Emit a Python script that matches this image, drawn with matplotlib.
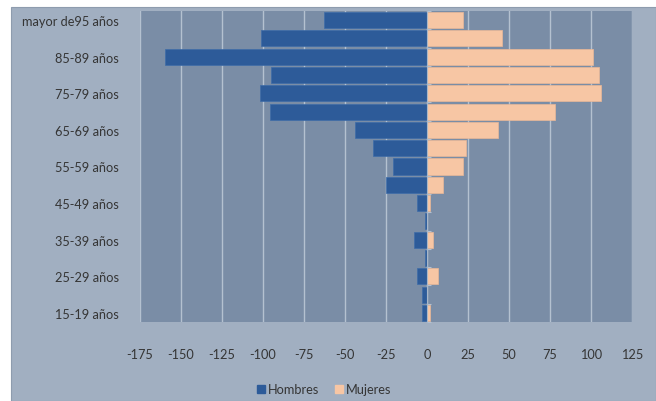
import numpy as np
import matplotlib.pyplot as plt
from matplotlib.patches import Rectangle
from matplotlib.lines import Line2D

plt.rcParams['font.family'] = ['Lato', 'DejaVu Sans']
plt.rcParams['axes.unicode_minus'] = False

# ---- Data (bottom to top) ----
grupos = ['15-19 años', '20-24 años', '25-29 años', '30-34 años', '35-39 años',
          '40-44 años', '45-49 años', '50-54 años', '55-59 años', '60-64 años',
          '65-69 años', '70-74 años', '75-79 años', '80-84 años', '85-89 años',
          '90-94 años', 'mayor de95 años']
hombres = [-3, -3, -6, -1, -8, -1, -6, -25, -21, -33,
           -44, -96, -102, -95, -160, -101, -63]
mujeres = [2, 0, 7, 0, 3.5, 0, 2, 10, 22, 24,
           43, 78, 106, 105, 101, 46, 22]
xticks = list(range(-175, 126, 25))

col_h = '#2D5B99'
col_m = '#F7C6A4'
txt = '#353535'

fig = plt.figure(figsize=(6.56, 4.02), dpi=100)
fig.patch.set_facecolor('white')
# chart background (leaves the thin white margin at left/top)
fig.add_artist(Rectangle((11 / 656, 0), 645 / 656, 394 / 402, transform=fig.transFigure,
                         facecolor='#A1AFC1', edgecolor='#8E9CAE', linewidth=0.8, zorder=-10))

ax = fig.add_axes([140 / 656, 1 - 323 / 402, 492 / 656, 311 / 402])
ax.set_facecolor('#7A8DA6')

y = np.arange(len(grupos))
ax.barh(y, hombres, height=0.88, color=col_h, edgecolor='#3E6CA8', linewidth=0.5, zorder=3)
ax.barh(y, mujeres, height=0.88, color=col_m, edgecolor='#E9B898', linewidth=0.5, zorder=3)

ax.set_xlim(-175, 125)
ax.set_ylim(-0.5, len(grupos) - 0.5)
ax.set_xticks(xticks)
ax.set_xticklabels([str(v) for v in xticks])
ax.set_yticks(y[::2])
ax.set_yticklabels(grupos[::2])
ax.tick_params(axis='both', length=0, labelsize=9.2, labelcolor=txt)
ax.tick_params(axis='x', pad=19)
ax.tick_params(axis='y', pad=15)
ax.grid(axis='x', color='#B4C1D0', linewidth=1.0, zorder=1)
for s in ax.spines.values():
    s.set_visible(False)

# category axis drawn at zero, with small tick marks between categories
ax2 = ax.twinx()
ax2.set_ylim(ax.get_ylim())
ax2.spines['right'].set_position(('data', 0))
ax2.spines['right'].set_color('#A9B7C8')
ax2.spines['right'].set_linewidth(0.8)
for k in ['left', 'top', 'bottom']:
    ax2.spines[k].set_visible(False)
ax2.set_yticks(np.arange(-0.5, len(grupos), 1))
ax2.set_yticklabels([])
ax2.tick_params(axis='y', direction='out', length=3, color='#B4C1D0', width=0.8)

handles = [Line2D([], [], marker='s', linestyle='None', markersize=6,
                  markerfacecolor=col_h, markeredgecolor=col_h),
           Line2D([], [], marker='s', linestyle='None', markersize=6,
                  markerfacecolor=col_m, markeredgecolor=col_m)]
fig.legend(handles, ['Hombres', 'Mujeres'], loc='center', ncol=2, frameon=False,
           bbox_to_anchor=(324 / 656, 1 - 390 / 402), fontsize=9.2, labelcolor=txt,
           handlelength=0.7, handletextpad=0.2, columnspacing=1.2)

fig.savefig('out.png', dpi=100, facecolor=fig.get_facecolor())
